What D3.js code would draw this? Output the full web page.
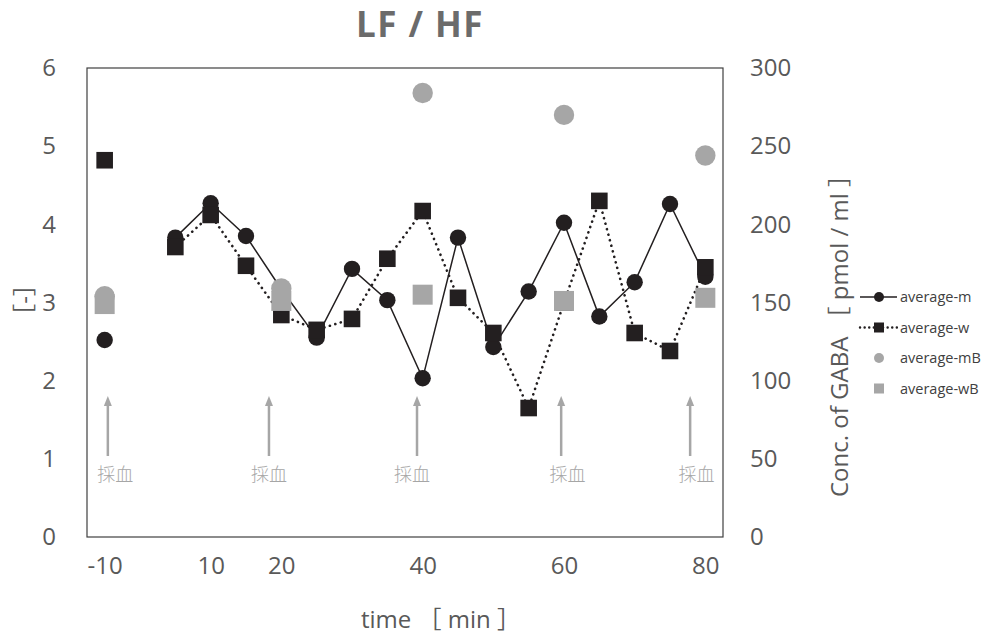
<!doctype html>
<html lang="ja">
<head>
    <meta charset="utf-8" />
    <title>LF / HF</title>
    <script src="https://cdn.jsdelivr.net/npm/d3@7"></script>
    <style>
        body { margin: 0; background: #fff; }
        text { font-family: "Open Sans", "Noto Sans CJK JP", sans-serif; }
    </style>
</head>
<body>
    <svg id="chart"></svg>

    <script>
        // x categories (the 0 slot is empty in the source sheet)
        const categories = ["-10", "0", "5", "10", "15", "20", "25", "30", "35", "40", "45", "50", "55", "60", "65", "70", "75", "80"];
        const tickLabels = ["-10", "10", "20", "40", "60", "80"];

        // LF/HF, left axis
        const averageM = [2.52, null, 3.83, 4.27, 3.85, 3.17, 2.55, 3.43, 3.03, 2.03, 3.83, 2.43, 3.14, 4.02, 2.82, 3.26, 4.26, 3.33];
        const averageW = [4.82, null, 3.71, 4.12, 3.47, 2.84, 2.65, 2.79, 3.56, 4.17, 3.06, 2.61, 1.65, 3.00, 4.30, 2.61, 2.38, 3.45];

        // GABA, right axis
        const bloodTimes = ["-10", "20", "40", "60", "80"];
        const averageMB = [154, 159, 284, 270, 244];
        const averageWB = [149, 151, 155, 151, 153];

        // blood sampling arrows (position in category units)
        const sampleAt = [0.09, 4.65, 8.84, 12.92, 16.57];
        const sampleLabelAt = [0.3, 4.65, 8.7, 13.1, 16.75];

        const leftTicks = [0, 1, 2, 3, 4, 5, 6];
        const rightTicks = [0, 50, 100, 150, 200, 250, 300];

        const W = 985, H = 634;
        const plot = {left: 87, right: 723, top: 68, bottom: 537};
        const black = "#231f20", gray = "#a6a6a6", textGray = "#595959";

        const svg = d3.select("#chart").attr("width", W).attr("height", H);

        const x = d3.scaleLinear().domain([-0.5, categories.length - 0.5]).range([plot.left, plot.right]);
        const yL = d3.scaleLinear().domain([0, 6]).range([plot.bottom, plot.top]);
        const yR = d3.scaleLinear().domain([0, 300]).range([plot.bottom, plot.top]);
        const idx = c => categories.indexOf(c);

        // title
        svg.append("text")
            .attr("x", 420).attr("y", 37)
            .attr("text-anchor", "middle")
            .attr("font-family", "'Liberation Sans', Arial, sans-serif")
            .attr("font-size", 35).attr("font-weight", "bold")
            .attr("letter-spacing", 1.5)
            .attr("fill", "#6b6b6b")
            .text("LF / HF");

        // frame
        svg.append("rect")
            .attr("x", plot.left).attr("y", plot.top)
            .attr("width", plot.right - plot.left).attr("height", plot.bottom - plot.top)
            .attr("fill", "none").attr("stroke", "#404040").attr("stroke-width", 1.2);

        // axes
        const axL = svg.append("g").attr("transform", `translate(${plot.left},0)`)
            .call(d3.axisLeft(yL).tickValues(leftTicks).tickFormat(d3.format("d")).tickSize(0).tickPadding(31));
        const axR = svg.append("g").attr("transform", `translate(${plot.right},0)`)
            .call(d3.axisRight(yR).tickValues(rightTicks).tickSize(0).tickPadding(27));
        const axB = svg.append("g").attr("transform", `translate(0,${plot.bottom})`)
            .call(d3.axisBottom(x).tickValues(tickLabels.map(idx))
                .tickFormat(i => categories[i]).tickSize(0).tickPadding(20));
        [axL, axR, axB].forEach(a => {
            a.select(".domain").remove();
            a.selectAll("text").attr("font-size", 24).attr("fill", textGray)
                .attr("font-family", "'Open Sans', sans-serif");
        });

        // axis titles
        svg.append("text")
            .attr("x", 441).attr("y", 628)
            .attr("text-anchor", "middle")
            .attr("font-size", 24).attr("fill", textGray)
            .text("time ［ min ］");
        svg.append("text")
            .attr("transform", "translate(33,300) rotate(-90)")
            .attr("text-anchor", "middle")
            .attr("font-size", 24).attr("fill", textGray)
            .text("［-］");
        svg.append("text")
            .attr("transform", "translate(848,330) rotate(-90)")
            .attr("text-anchor", "middle")
            .attr("font-size", 24).attr("fill", textGray)
            .text("Conc. of GABA ［ pmol / ml ］");

        // blood sampling arrows
        const arrows = svg.append("g");
        sampleAt.forEach((p, i) => {
            const ax = x(p);
            arrows.append("line")
                .attr("x1", ax).attr("x2", ax).attr("y1", 456).attr("y2", 404)
                .attr("stroke", gray).attr("stroke-width", 2.5);
            arrows.append("path")
                .attr("d", `M${ax},396 L${ax - 4},406 L${ax + 4},406 Z`)
                .attr("fill", gray);
            arrows.append("text")
                .attr("x", x(sampleLabelAt[i])).attr("y", 481)
                .attr("text-anchor", "middle")
                .attr("font-family", "'Noto Sans CJK JP', sans-serif")
                .attr("font-size", 18).attr("font-weight", 300)
                .attr("fill", gray)
                .text("採血");
        });

        // series lines
        const pts = arr => arr.map((v, i) => ({i, v}));
        const line = d3.line().defined(d => d.v !== null).x(d => x(d.i)).y(d => yL(d.v));

        svg.append("path")
            .datum(pts(averageW))
            .attr("d", line)
            .attr("fill", "none").attr("stroke", black)
            .attr("stroke-width", 2.6).attr("stroke-linecap", "round")
            .attr("stroke-dasharray", "0.1,5.6");

        svg.append("path")
            .datum(pts(averageM))
            .attr("d", line)
            .attr("fill", "none").attr("stroke", black).attr("stroke-width", 1.5);

        svg.append("g").selectAll("circle")
            .data(pts(averageM).filter(d => d.v !== null))
            .join("circle")
            .attr("cx", d => x(d.i)).attr("cy", d => yL(d.v)).attr("r", 8.2)
            .attr("fill", black);

        svg.append("g").selectAll("rect")
            .data(pts(averageW).filter(d => d.v !== null))
            .join("rect")
            .attr("x", d => x(d.i) - 8.3).attr("y", d => yL(d.v) - 8.3)
            .attr("width", 16.6).attr("height", 16.6)
            .attr("fill", black);

        // blood series (right axis)
        svg.append("g").selectAll("circle")
            .data(bloodTimes.map((t, k) => ({i: idx(t), v: averageMB[k]})))
            .join("circle")
            .attr("cx", d => x(d.i)).attr("cy", d => yR(d.v)).attr("r", 10.2)
            .attr("fill", gray);

        svg.append("g").selectAll("rect")
            .data(bloodTimes.map((t, k) => ({i: idx(t), v: averageWB[k]})))
            .join("rect")
            .attr("x", d => x(d.i) - 10).attr("y", d => yR(d.v) - 10)
            .attr("width", 20).attr("height", 20)
            .attr("fill", gray);

        // legend
        const legendItems = [
            {name: "average-m", kind: "circle", color: black, line: "solid"},
            {name: "average-w", kind: "square", color: black, line: "dot"},
            {name: "average-mB", kind: "circle", color: gray, line: null},
            {name: "average-wB", kind: "square", color: gray, line: null}
        ];
        const legend = svg.append("g").attr("transform", "translate(860,297)");
        const item = legend.selectAll("g").data(legendItems).join("g")
            .attr("transform", (d, i) => `translate(0,${i * 30.5})`);
        item.filter(d => d.line).append("line")
            .attr("x1", 0).attr("x2", 37).attr("y1", 0).attr("y2", 0)
            .attr("stroke", black)
            .attr("stroke-width", d => d.line === "dot" ? 2.4 : 1.3)
            .attr("stroke-linecap", d => d.line === "dot" ? "round" : "butt")
            .attr("stroke-dasharray", d => d.line === "dot" ? "0.1,4.5" : null);
        item.filter(d => d.kind === "circle").append("circle")
            .attr("cx", 19).attr("cy", 0).attr("r", 5).attr("fill", d => d.color);
        item.filter(d => d.kind === "square").append("rect")
            .attr("x", 14).attr("y", -5).attr("width", 10).attr("height", 10).attr("fill", d => d.color);
        item.append("text")
            .attr("x", 40).attr("y", 0).attr("dy", "0.36em")
            .attr("font-size", 14.5).attr("fill", "#404040")
            .text(d => d.name);
    </script>
</body>
</html>
